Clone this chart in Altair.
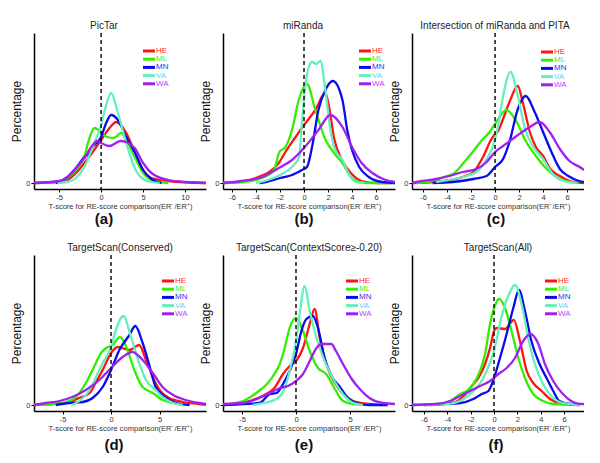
import altair as alt
import pandas as pd

SERIES = ["HE", "ML", "MN", "VA", "WA"]
LINE_COLORS = ["#ff1414", "#33ee00", "#0a0aee", "#66eebb", "#a020f0"]
LABEL_COLORS = ["#ff2a2a", "#44ee22", "#3333ee", "#66ccff", "#bb44ff"]

PANEL_TITLES = ["PicTar", "miRanda", "Intersection of miRanda and PITA",
                "TargetScan(Conserved)", "TargetScan(ContextScore\u2265-0.20)", "TargetScan(All)"]
PANEL_TAGS = ["(a)", "(b)", "(c)", "(d)", "(e)", "(f)"]
X_DOMAINS = [[-8, 12.5], [-6.75, 7.58], [-6.92, 7.41], [-7.94, 9.79], [-6.76, 9.17], [-7.03, 7.71]]
X_TICKS = [[-5, 0, 5, 10], [-6, -4, -2, 0, 2, 4, 6], [-6, -4, -2, 0, 2, 4, 6],
           [-5, 0, 5], [-5, 0, 5], [-6, -4, -2, 0, 2, 4, 6]]
Y_TICKS = [0]

# (a) PicTar
PICTAR = {
    "HE": ([-8, -5, -4, -3, -2, -1, 0, 1, 1.8, 3, 4, 5, 6, 8, 12.5],
           [0, 1, 3, 10, 20, 31, 43, 55, 61, 50, 31, 13, 5, 2, 0]),
    "ML": ([-8, -5, -4, -3, -2, -1.5, -0.8, 0, 0.7, 1.5, 2.4, 3, 4, 5, 6, 7, 8],
           [0, 1, 5, 13, 26, 42, 55, 51, 46, 45, 50, 43, 26, 10, 3, 1, 0]),
    "MN": ([-5.4, -5, -4, -3, -2, -1.5, -1, 0, 0.6, 1.2, 2, 3, 4, 5, 6, 7.2],
           [0, 1, 6, 15, 26, 29, 36, 46, 60, 68, 63, 46, 31, 13, 4, 0]),
    "VA": ([-5.2, -4, -3, -2, -1, 0, 0.5, 1.2, 2, 3, 4, 5, 6, 7],
           [0, 1, 5, 16, 36, 58, 75, 90, 70, 40, 15, 4, 1, 0]),
    "WA": ([-8, -5, -4, -3, -2, -1, -0.5, 0, 1, 2.3, 3, 4, 5, 6, 8, 10, 12.5],
           [0, 2, 6, 15, 25, 38, 42, 40, 37, 42, 41, 35, 20, 10, 3, 1, 0]),
}
# (b) miRanda
MIRANDA = {
    "HE": ([-6.75, -4.9, -3.8, -2.9, -2.1, -1.55, -0.7, 0, 0.94, 1.78, 2.1, 2.5, 3.2, 3.9, 4.8, 6, 7.3],
           [0, 2, 6, 11, 20, 31, 46, 58, 73, 90, 75, 45, 22, 10, 2, 0, 0]),
    "ML": ([-6.75, -5, -3.5, -2.5, -2.05, -1.55, -1, -0.44, 0.25, 0.94, 1.8, 2.5, 3.2, 3.9, 4.6, 5.5, 7.58],
           [0, 1, 5, 13, 31, 36, 53, 83, 99, 73, 43, 30, 20, 6, 1, 0, 0]),
    "MN": ([-3.7, -3.2, -2, -1, -0.17, 0.25, 0.67, 1.2, 1.78, 2.4, 3.2, 3.6, 4, 4.6, 5.4, 6.5, 7.58],
           [0, 1, 5, 8, 13, 16, 36, 73, 93, 102, 83, 53, 33, 16, 6, 1, 0]),
    "VA": ([-4, -3, -2, -1, -0.4, -0.2, 0.1, 0.4, 0.67, 1.0, 1.36, 1.78, 2.2, 2.6, 3.2, 3.7, 4.3, 5],
           [0, 3, 8, 16, 26, 56, 96, 116, 121, 119, 122, 93, 53, 33, 23, 10, 1, 0]),
    "WA": ([-6.75, -5.2, -3.5, -2.1, -1, 0, 1.2, 2.2, 3.2, 4, 4.8, 5.7, 6.8, 7.58],
           [0, 2, 6, 15, 23, 35, 53, 68, 56, 36, 20, 10, 3, 1]),
}
# (c) Intersection of miRanda and PITA
INTERSECT = {
    "HE": ([-6.92, -4.3, -2.7, -1.8, -1, -0.3, 0, 0.25, 0.67, 1.2, 1.9, 2.3, 2.9, 3.4, 4, 4.6, 5.4, 6.5, 7.41],
           [0, 2, 6, 11, 26, 44, 49, 52, 64, 81, 97, 81, 51, 36, 27, 14, 7, 1, 0]),
    "ML": ([-6.55, -5.2, -4.3, -3.5, -2.7, -1.8, -1.15, -0.45, 0.1, 0.95, 1.8, 2.6, 3.4, 4.3, 5.1, 5.9, 7],
           [0, 2, 6, 9, 19, 32, 42, 51, 61, 73, 61, 41, 27, 14, 6, 2, 0]),
    "MN": ([-5.2, -3.5, -1.8, -0.7, 0, 0.67, 1.2, 1.9, 2.55, 3.3, 4, 4.7, 5.4, 6.1, 7, 7.41],
           [0, 1, 4, 7, 16, 24, 41, 74, 87, 71, 51, 31, 14, 7, 2, 1]),
    "VA": ([-4.9, -2.7, -1.55, -0.7, -0.17, 0.25, 0.67, 1.28, 1.9, 2.5, 3.3, 4, 4.8, 5.7, 6.8],
           [1, 6, 11, 24, 37, 57, 87, 111, 87, 54, 34, 24, 9, 2, 0]),
    "WA": ([-6.92, -6.55, -4.9, -3.8, -2.7, -1.55, -0.7, 0, 0.67, 1.8, 2.9, 3.7, 4.55, 5.4, 6.2, 7.05, 7.41],
           [0, 1, 4, 7, 11, 14, 21, 31, 37, 47, 56, 61, 51, 34, 22, 16, 13]),
}
# (d) TargetScan(Conserved)
TS_CONSERVED = {
    "HE": ([-7.94, -6, -4.3, -3.3, -2.2, -1.55, -0.86, 0, 0.69, 1.9, 2.9, 3.6, 4.3, 5, 6, 7.4, 9.1, 9.79],
           [0, 1, 3, 7, 12, 23, 35, 52, 58, 55, 60, 45, 28, 15, 7, 3, 1, 0]),
    "ML": ([-7.94, -6, -4.6, -3.6, -2.6, -1.9, -1.03, -0.5, 0.17, 0.93, 1.7, 2.4, 3.26, 4.3, 5.3, 6.4, 7.4],
           [0, 1, 3, 8, 22, 35, 52, 57, 60, 68, 55, 35, 18, 12, 5, 2, 0]),
    "MN": ([-5.7, -4.3, -2.9, -1.9, -0.86, 0, 0.86, 1.9, 2.5, 3.26, 4, 4.6, 5.7, 6.7, 8.1],
           [0, 2, 3, 7, 18, 35, 55, 70, 79, 62, 38, 18, 7, 2, 0]),
    "VA": ([-4.1, -3.6, -2.9, -2.2, -1.55, -0.86, 0, 0.5, 1.27, 2.06, 2.9, 3.6, 4.6, 5.3, 6.4, 7.4],
           [0, 2, 7, 15, 28, 42, 58, 75, 89, 68, 42, 25, 15, 8, 2, 0]),
    "WA": ([-7.94, -6.7, -5.3, -4, -2.6, -1.2, 0, 1.2, 2.2, 3.26, 4.3, 5.3, 6.4, 7.7, 9.1, 9.79],
           [0, 2, 4, 8, 15, 25, 37, 48, 53, 45, 32, 18, 10, 5, 2, 1]),
}
# (e) TargetScan(ContextScore>=-0.20)
TS_CONTEXT = {
    "HE": ([-6.76, -5.5, -4, -2.75, -2, -1.2, -0.59, 0, 0.65, 1.27, 1.73, 2.2, 2.8, 3.6, 4.35, 5.3, 6.8, 8],
           [0, 1, 5, 11, 17, 31, 39, 44, 57, 81, 96, 67, 41, 22, 11, 4, 1, 0]),
    "ML": ([-6.76, -6.1, -4.9, -3.8, -3.2, -2.6, -2, -1.5, -1.05, -0.59, 0, 0.65, 1.27, 2.04, 2.8, 3.6, 4.35, 5.3, 6.8],
           [0, 1, 4, 11, 16, 22, 31, 41, 57, 77, 87, 74, 54, 37, 31, 16, 4, 1, 0]),
    "MN": ([-6.76, -4.9, -3.4, -2.4, -1.8, -1.2, -0.59, 0, 0.5, 0.96, 1.57, 2.04, 2.65, 3.4, 4, 4.66, 5.6, 6.8, 8.5],
           [0, 1, 2, 11, 12, 21, 34, 51, 74, 86, 89, 77, 47, 27, 19, 9, 2, 0, 0]),
    "VA": ([-4, -3, -1.8, -1.05, -0.52, 0, 0.34, 0.8, 1.27, 1.9, 2.65, 3.4, 4.35, 5.3, 6.2],
           [0, 2, 6, 17, 37, 64, 91, 119, 94, 67, 44, 27, 11, 2, 0]),
    "WA": ([-6.76, -4.9, -3.4, -2.4, -1.5, -0.74, 0, 0.65, 1.27, 1.9, 2.35, 3.27, 3.7, 4.35, 5.1, 5.9, 6.8, 8.05, 9.17],
           [1, 2, 7, 12, 17, 19, 24, 31, 44, 57, 61, 61, 54, 41, 27, 16, 7, 2, 1]),
}
# (f) TargetScan(All)
TS_ALL = {
    "HE": ([-6, -4.3, -3.3, -2.6, -1.9, -1.34, -0.77, -0.34, 0, 0.23, 0.94, 1.7, 2.22, 2.8, 3.36, 4.07, 4.8, 5.6, 6.5, 7.3],
           [0, 1, 3, 9, 19, 27, 41, 57, 74, 77, 76, 85, 64, 34, 22, 14, 6, 2, 1, 0]),
    "ML": ([-7.03, -4.9, -3.76, -2.9, -2.34, -1.77, -1.2, -0.77, -0.34, 0, 0.43, 0.94, 1.5, 2.08, 2.65, 3.36, 4.2, 5.07, 7.3],
           [0, 1, 4, 11, 14, 21, 34, 51, 81, 97, 106, 97, 74, 47, 27, 11, 4, 1, 0]),
    "MN": ([-5.5, -4.3, -2.9, -1.77, -1.05, -0.48, 0, 0.51, 1.08, 1.65, 2.14, 2.65, 3.2, 3.9, 4.5, 5.07, 5.6, 6.5, 7.3],
           [0, 1, 2, 6, 11, 14, 27, 47, 71, 97, 115, 94, 64, 41, 27, 14, 4, 1, 0]),
    "VA": ([-5.8, -4, -2.9, -2.05, -1.34, -0.63, 0, 0.66, 1.22, 1.8, 2.36, 2.93, 3.5, 4.2, 4.9, 5.6, 6.5, 7.3],
           [0, 1, 4, 11, 19, 34, 54, 89, 109, 120, 101, 67, 41, 21, 9, 3, 1, 0]),
    "WA": ([-7.03, -4.9, -3.76, -2.9, -2.05, -1.2, -0.34, 0.37, 1.08, 1.8, 2.5, 3.13, 3.8, 4.36, 5.07, 5.9, 6.6, 7.35, 7.71],
           [0, 1, 4, 9, 14, 19, 24, 31, 37, 47, 64, 71, 61, 41, 24, 11, 4, 1, 1]),
}

PANELS = [PICTAR, MIRANDA, INTERSECT, TS_CONSERVED, TS_CONTEXT, TS_ALL]

# layout (pixels)
W, H = 172, 156
LEGEND_X = [109, 136, 129, 128, 123, 133]
LEGEND_Y0 = [18, 18, 19, 26, 26, 26]
TITLE_DX = [-16, -6, -3, 0, 0, 0]
TAG_DY = [30, 30, 30, 34, 34, 34]
TAG_DX = [-16, -5, -2, -6, -5, -2]
X_TITLE = "T-score for RE-score comparison(ER\u207b/ER\u207a)"


def make_panel(i):
    rows = []
    for s in SERIES:
        xs, ys = PANELS[i][s]
        for x, y in zip(xs, ys):
            rows.append({"series": s, "t": x, "pct": y})
    df = pd.DataFrame(rows)

    xscale = alt.Scale(domain=X_DOMAINS[i], nice=False, zero=False)
    yscale = alt.Scale(domain=[-6, 150], nice=False, zero=False)
    xaxis = alt.Axis(values=X_TICKS[i], title=X_TITLE, labelOverlap=False,
                     labelFlush=False, labelExpr="'' + datum.value")

    lines = alt.Chart(df).mark_line(interpolate="monotone", strokeWidth=2.3, clip=True).encode(
        x=alt.X("t:Q", scale=xscale, axis=xaxis),
        y=alt.Y("pct:Q", scale=yscale,
                axis=alt.Axis(values=Y_TICKS, title="Percentage", labelOverlap=False,
                              labelExpr="'' + datum.value")),
        color=alt.Color("series:N", scale=alt.Scale(domain=SERIES, range=LINE_COLORS), legend=None),
    )

    zero = alt.Chart(pd.DataFrame({"t": [0]})).mark_rule(
        strokeDash=[4, 3], color="#111", strokeWidth=1.5
    ).encode(x=alt.X("t:Q", scale=xscale, axis=xaxis))

    lg = pd.DataFrame({"series": SERIES, "row": list(range(len(SERIES)))})
    lx = LEGEND_X[i]
    base_lg = alt.Chart(lg).transform_calculate(ly=f"{LEGEND_Y0[i]} + datum.row * 8.2")
    lg_rule = base_lg.mark_rule(strokeWidth=3).encode(
        x=alt.value(lx), x2=alt.value(lx + 12),
        y=alt.Y("ly:Q", scale=None, axis=None),
        color=alt.Color("series:N", scale=alt.Scale(domain=SERIES, range=LINE_COLORS), legend=None),
    )
    lg_text = base_lg.mark_text(align="left", baseline="middle", fontSize=8).encode(
        x=alt.value(lx + 13),
        y=alt.Y("ly:Q", scale=None, axis=None),
        text="series:N",
        fill=alt.Fill("series:N", scale=alt.Scale(domain=SERIES, range=LABEL_COLORS), legend=None),
    )

    tag = alt.Chart(pd.DataFrame({"tag": [PANEL_TAGS[i]]})).mark_text(
        fontSize=15, fontWeight="bold", baseline="middle", color="#111"
    ).encode(x=alt.value(W / 2 + TAG_DX[i]), y=alt.value(H + TAG_DY[i]), text="tag:N")

    return alt.layer(lines, zero, lg_rule, lg_text, tag).properties(
        width=W, height=H,
        title=alt.TitleParams(PANEL_TITLES[i], fontSize=10, fontWeight="normal",
                              color="#222", offset=1, anchor="middle", dx=TITLE_DX[i]),
    )


chart = alt.concat(*[make_panel(i) for i in range(6)], columns=3,
                   spacing={"row": 66, "column": 17}, bounds="flush").properties(
    padding={"left": 2, "top": 13, "right": 0, "bottom": 0}
).configure(font="Liberation Sans").configure_view(stroke=None).configure_axis(
    grid=False, domainColor="#000", domainWidth=1.5, tickColor="#000", tickSize=3,
    labelFontSize=7.5, labelColor="#333", labelPadding=1, labelOverlap=False,
    titleFontWeight="normal",
).configure_axisX(
    titleFontSize=7.5, titleColor="#333", titlePadding=2,
).configure_axisY(
    titleFontSize=12, titleColor="#111", titlePadding=2,
)

chart.save("out.html", embed_options={"renderer": "svg", "actions": False})
